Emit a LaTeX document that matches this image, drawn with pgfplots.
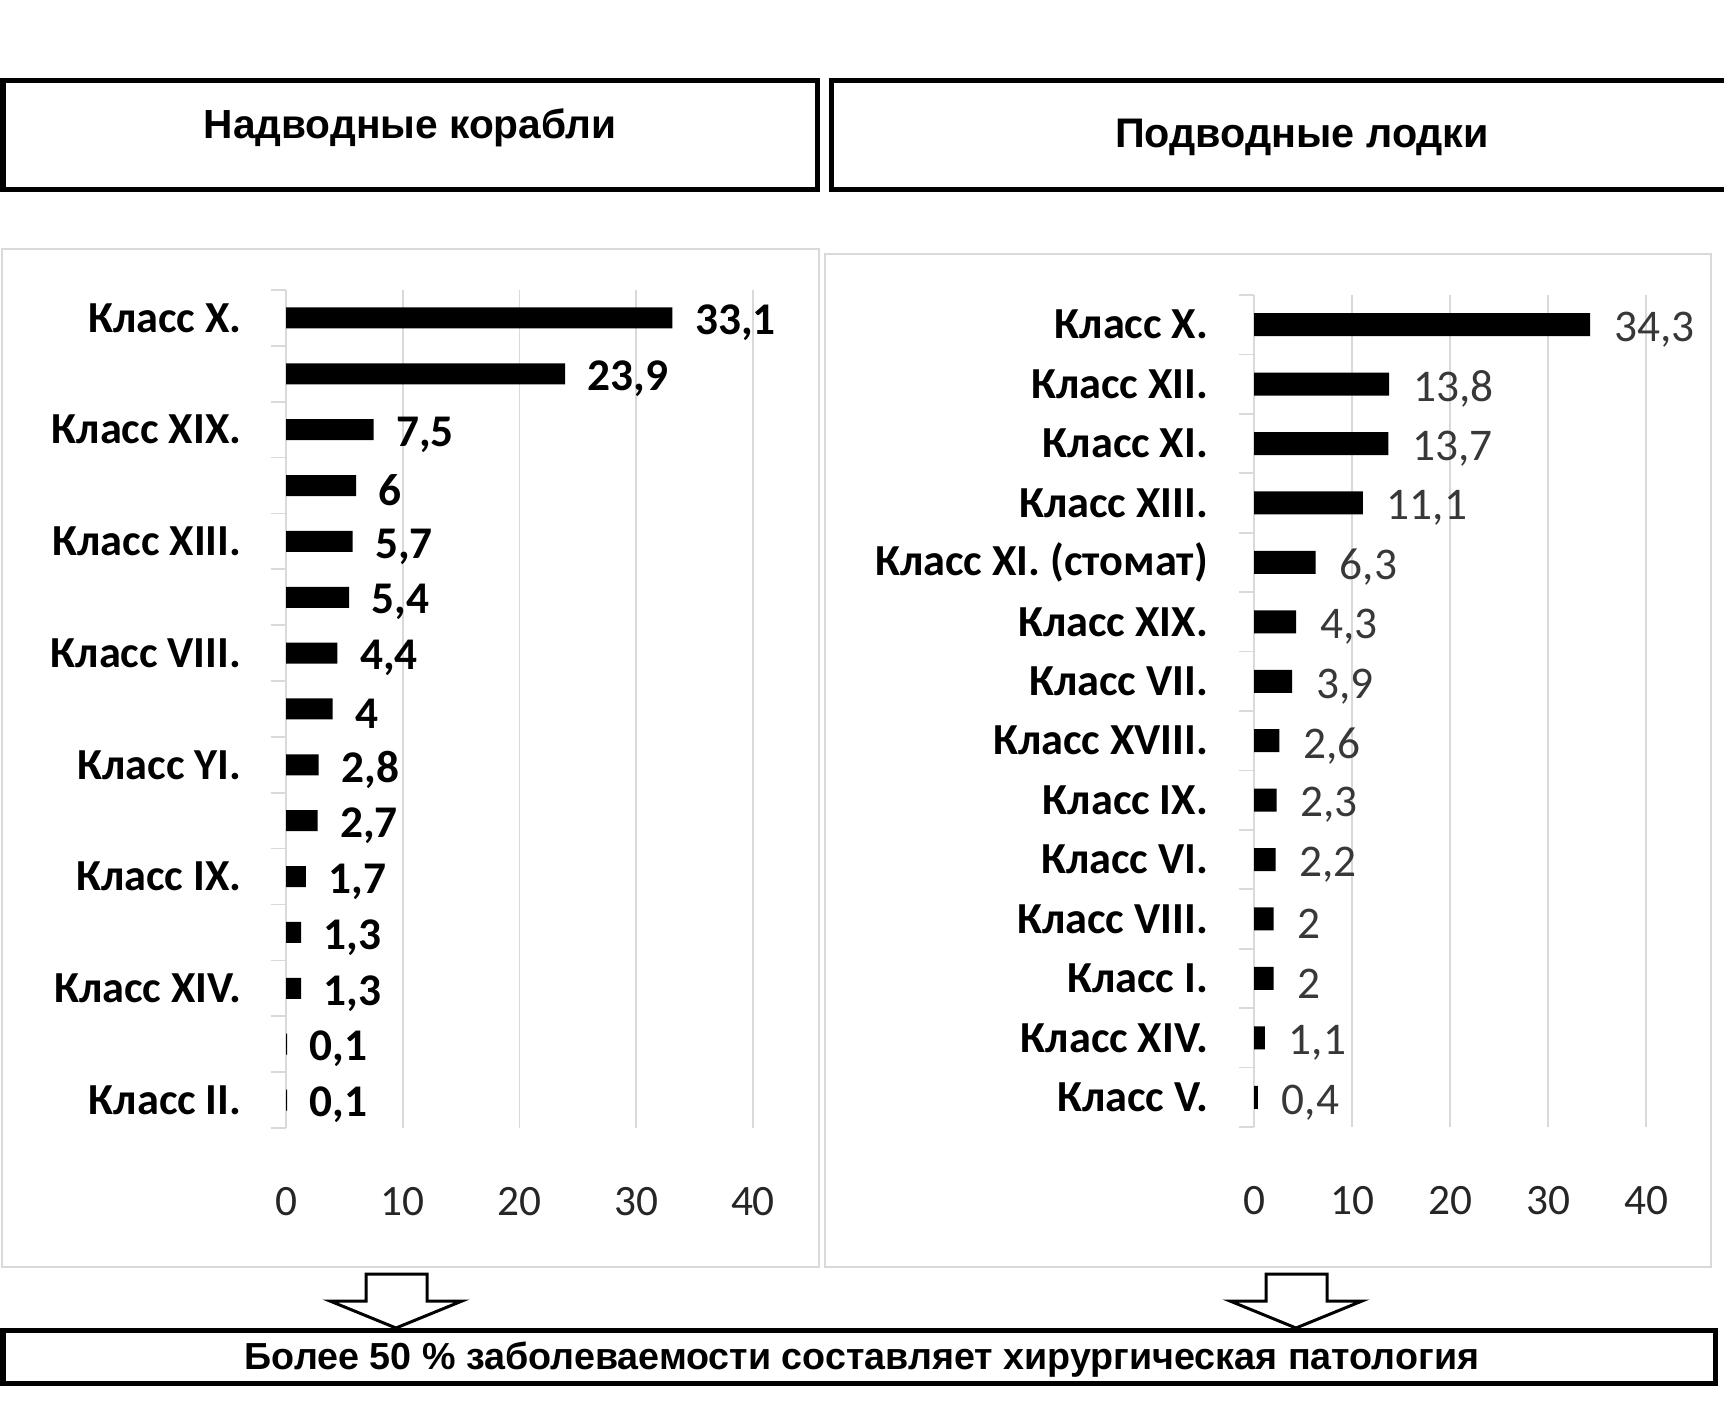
\documentclass[border=0pt]{standalone}
\usepackage{fontspec}
\usepackage{pgfplots}
\pgfplotsset{compat=1.18}
\setmainfont{Carlito}
\newfontfamily\arial{Liberation Sans}
\definecolor{gridgray}{HTML}{D9D9D9}
\definecolor{txtgray}{HTML}{383838}
\definecolor{tickgray}{HTML}{262626}

\pgfplotsset{
  panel/.style={
    scale only axis, anchor=south west,
    xbar, xmin=0, xmax=40,
    xtick={0,10,20,30,40},
    axis y line*=left, axis x line*=bottom,
    x axis line style={draw=none},
    y axis line style={gridgray, line width=0.5pt},
    xmajorgrids, grid style={gridgray, line width=0.5pt},
    major tick length=0pt, minor tick length=4.5pt,
    tick align=outside,
    minor tick style={gridgray, line width=0.5pt},
    xticklabel style={font=\fontsize{13}{15}\selectfont, text=tickgray, anchor=north, inner sep=0pt, yshift=-17.7pt},
    /pgf/number format/assume math mode=true,
    /pgf/number format/use comma,
    nodes near coords, nodes near coords align=horizontal,
    clip=false,
  }
}

\begin{document}
\begin{tikzpicture}
\begin{scope}[x=0.3pt,y=-0.3pt]
  \useasboundingbox (0,0) rectangle (1724,1401);
  \fill[white] (0,0) rectangle (1724,1401);
  % top boxes
  \draw[line width=1.5pt] (3,81) rectangle (817,190);
  \draw[line width=1.5pt] (831,81) rectangle (1745,190);
  \node[font=\arial\bfseries\fontsize{12.2}{14}\selectfont, anchor=base] at (410,139) {Надводные корабли};
  \node[font=\arial\bfseries\fontsize{12.4}{14}\selectfont, anchor=base] at (1302,148) {Подводные лодки};
  % panel frames
  \draw[gridgray, line width=0.6pt] (2,249) rectangle (819,1267);
  \draw[gridgray, line width=0.6pt] (825,254) rectangle (1711,1267);
  % arrows
  \draw[line width=0.9pt, fill=white] (366,1274) -- (427,1274) -- (427,1301) -- (462,1301) -- (396,1328) -- (330,1301) -- (366,1301) -- cycle;
  \draw[line width=0.9pt, fill=white] (1266,1274) -- (1327,1274) -- (1327,1301) -- (1362,1301) -- (1296,1328) -- (1230,1301) -- (1266,1301) -- cycle;
  % bottom box
  \draw[line width=1.5pt, fill=white] (3,1330) rectangle (1715,1383);
  \node[font=\arial\bfseries\fontsize{11.3}{13}\selectfont, anchor=base] at (862,1369) {Более 50 \% заболеваемости составляет хирургическая патология};
\end{scope}

% left panel
\begin{axis}[panel,
  at={(85.8pt,-338.4pt)},
  width=140.1pt, height=251.4pt,
  bar width=6.3pt,
  ymin=0.5, ymax=15.5,
  ytick={1,...,15},
  yticklabels={{Класс II.},{},{Класс XIV.},{},{Класс IX.},{},{Класс YI.},{},{Класс VIII.},{},{Класс XIII.},{},{Класс XIX.},{},{Класс X.}},
  minor ytick={0.5,1.5,...,15.5},
  yticklabel style={font=\fontsize{13.3}{15}\selectfont\bfseries, anchor=east, inner sep=0pt, xshift=-13.2pt},
  every node near coord/.append style={font=\fontsize{13.6}{15}\selectfont\bfseries, anchor=west, inner sep=0pt, xshift=6.6pt, yshift=-1.5pt, text=black},
]
\addplot[fill=black, draw=none] coordinates {
 (0.1,1) (0.1,2) (1.3,3) (1.3,4) (1.7,5) (2.7,6) (2.8,7) (4,8)
 (4.4,9) (5.4,10) (5.7,11) (6,12) (7.5,13) (23.9,14) (33.1,15)};
\end{axis}

% right panel
\begin{axis}[panel,
  at={(376.2pt,-338.1pt)},
  width=117.6pt, height=249.6pt,
  bar width=6.9pt,
  ymin=0.5, ymax=14.5,
  ytick={1,...,14},
  yticklabels={{Класс V.},{Класс XIV.},{Класс I.},{Класс VIII.},{Класс VI.},{Класс IX.},{Класс XVIII.},{Класс VII.},{Класс XIX.},{Класс XI. (стомат)},{Класс XIII.},{Класс XI.},{Класс XII.},{Класс X.}},
  minor ytick={0.5,1.5,...,14.5},
  yticklabel style={font=\fontsize{13.3}{15}\selectfont\bfseries, anchor=east, inner sep=0pt, xshift=-13.6pt},
  every node near coord/.append style={font=\fontsize{13.6}{15}\selectfont, anchor=west, inner sep=0pt, xshift=7pt, yshift=-1.5pt, text=txtgray},
]
\addplot[fill=black, draw=none] coordinates {
 (0.4,1) (1.1,2) (2,3) (2,4) (2.2,5) (2.3,6) (2.6,7) (3.9,8)
 (4.3,9) (6.3,10) (11.1,11) (13.7,12) (13.8,13) (34.3,14)};
\end{axis}
\end{tikzpicture}
\end{document}
